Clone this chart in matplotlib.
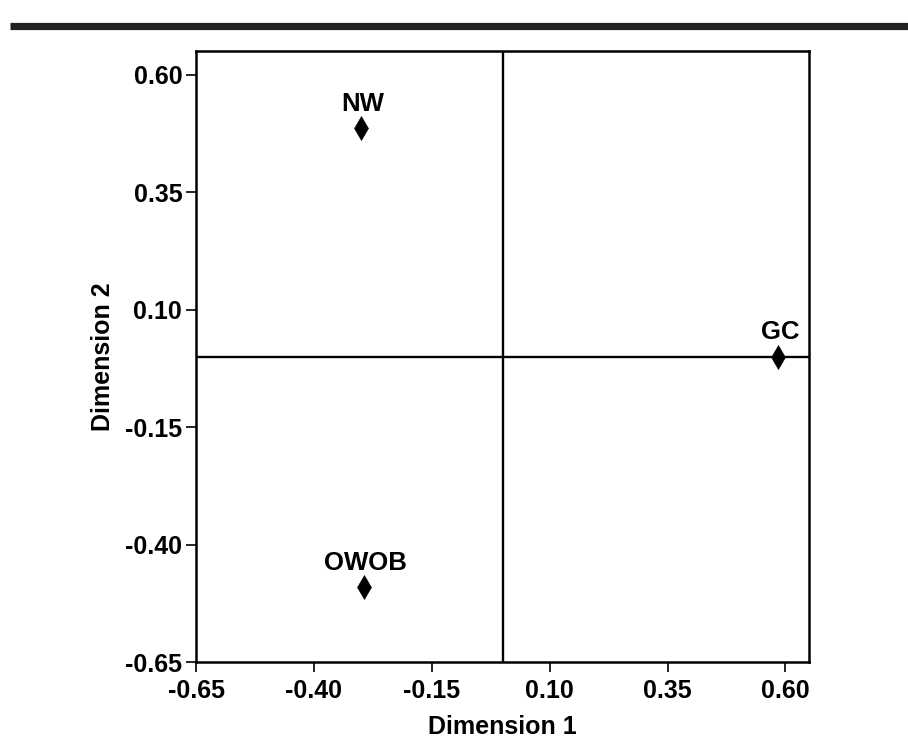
import matplotlib.pyplot as plt
from matplotlib.lines import Line2D

# =============== Data ===============
LABELS = ["NW", "GC", "OWOB"]
DIM1 = [-0.30, 0.585, -0.294]
DIM2 = [0.486, 0.0, -0.491]

TICKS = [-0.65, -0.40, -0.15, 0.10, 0.35, 0.60]
LIMITS = (-0.65, 0.65)

FONT = "Liberation Sans"
plt.rcParams["font.family"] = [FONT, "DejaVu Sans"]
plt.rcParams["font.weight"] = "bold"

fig = plt.figure(figsize=(9.08, 7.40), dpi=100)
ax = fig.add_axes([0.2159, 0.1054, 0.891 - 0.2159, 0.931 - 0.1054])

# Thick rule across the top of the page
fig.add_artist(Line2D([10 / 908, 1.0], [1 - 25.5 / 740, 1 - 25.5 / 740],
                      transform=fig.transFigure, color="#222222", linewidth=5.2,
                      solid_capstyle="butt"))

# Quadrant lines at zero
ax.axhline(0, color="black", linewidth=1.7, zorder=1)
ax.axvline(0, color="black", linewidth=1.7, zorder=1)

ax.plot(DIM1, DIM2, linestyle="none", marker="d", markersize=12.5,
        markeredgewidth=0.4, color="black", zorder=3)

for name, x, y in zip(LABELS, DIM1, DIM2):
    ax.annotate(name, (x, y), xytext=(1, 12.5), textcoords="offset points",
                ha="center", va="baseline", fontsize=18.5, fontweight="bold")

ax.set_xlim(*LIMITS)
ax.set_ylim(*LIMITS)
ax.set_xticks(TICKS)
ax.set_yticks(TICKS)
ax.set_xticklabels([f"{t:.2f}" for t in TICKS])
ax.set_yticklabels([f"{t:.2f}" for t in TICKS])
ax.tick_params(axis="x", labelsize=18, length=7, width=1.2, pad=5)
ax.tick_params(axis="y", labelsize=18, length=7, width=1.2, pad=3)

for spine in ax.spines.values():
    spine.set_linewidth(1.8)

ax.set_xlabel("Dimension 1", fontsize=18, fontweight="bold", labelpad=9)
ax.set_ylabel("Dimension 2", fontsize=18, fontweight="bold", labelpad=7)

fig.savefig("out.png", dpi=100)
